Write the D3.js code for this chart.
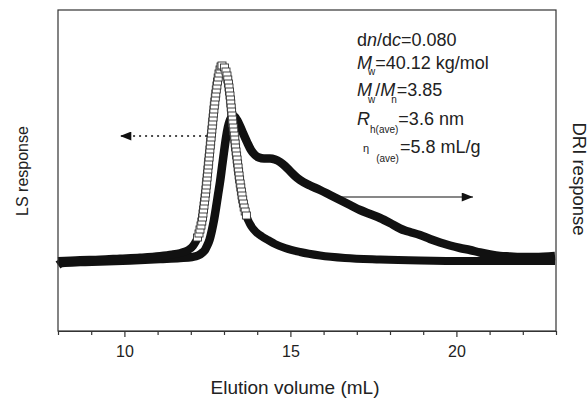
<!DOCTYPE html>
<html>
<head>
<meta charset="utf-8">
<script src="https://cdn.jsdelivr.net/npm/d3@7"></script>
<style>
  body { margin: 0; background: #fff; }
  text { font-family: "Liberation Sans", Arial, Helvetica, sans-serif; fill: #222; }
</style>
</head>
<body>
<svg id="drawing_region"></svg>
<script>
// LS response (open squares), arbitrary units above baseline
const lsVolume = [8.000, 8.663, 9.265, 9.867, 10.470, 11.072, 11.434, 11.675, 11.825, 11.946,
  12.066, 12.142, 12.202, 12.247, 12.277, 12.307, 12.331, 12.352, 12.367, 12.383,
  12.398, 12.413, 12.428, 12.443, 12.455, 12.467, 12.479, 12.491, 12.503, 12.515,
  12.527, 12.539, 12.551, 12.563, 12.575, 12.587, 12.599, 12.611, 12.623, 12.635,
  12.648, 12.660, 12.672, 12.684, 12.696, 12.708, 12.723, 12.738, 12.753, 12.768,
  12.786, 12.804, 12.825, 12.849, 12.880, 12.910, 12.940,
  13.015, 13.060, 13.090, 13.114, 13.133, 13.151, 13.166, 13.181, 13.193, 13.205,
  13.217, 13.229, 13.241, 13.253, 13.265, 13.280, 13.295, 13.310, 13.325, 13.337,
  13.349, 13.364, 13.380, 13.395, 13.410, 13.425, 13.440, 13.455, 13.470, 13.488,
  13.506, 13.524, 13.542, 13.563, 13.584, 13.608, 13.639, 13.675, 13.723, 13.783,
  13.858, 13.964,
  14.144, 14.325, 14.536, 14.837, 15.289, 15.892, 16.644, 17.699, 18.904, 20.410, 21.916, 22.970];
const lsSignal = [1, 2, 2.5, 3.5, 4.5, 6, 7.5, 9, 10.5, 12.5,
  16, 20, 24, 28, 32, 36, 40, 44, 48, 52,
  56, 60, 64, 68, 72, 76, 80, 84, 88, 92,
  96, 100, 104, 108, 112, 116, 120, 124, 128, 132,
  136, 140, 144, 148, 152, 156, 160, 164, 168, 172,
  176, 180, 184, 188, 192, 195, 196,
  194, 190, 186, 182, 178, 174, 170, 166, 162, 158,
  154, 150, 146, 142, 138, 134, 130, 126, 122, 118,
  114, 110, 106, 102, 98, 94, 90, 86, 82, 78,
  74, 70, 66, 62, 58, 54, 50, 46, 42, 38,
  34, 30,
  25.5, 22, 18, 14, 10, 6.5, 4, 2.5, 1.5, 1, 1, 1];

// DRI response (solid line)
const driVolume = [8.000, 8.120, 8.663, 9.265, 10.169, 11.072, 11.675, 12.036, 12.217, 12.337,
  12.428, 12.488, 12.563, 12.638, 12.699, 12.759, 12.819, 12.880, 12.940, 13.000,
  13.060, 13.120, 13.181, 13.241, 13.286, 13.331, 13.392, 13.482, 13.572, 13.693,
  13.813, 13.934, 14.054, 14.205, 14.386, 14.536, 14.687, 14.837, 14.988, 15.139,
  15.289, 15.590, 15.892, 16.193, 16.494, 16.795, 17.096, 17.398, 17.699, 18.000,
  18.301, 18.452, 18.602, 18.904, 19.205, 19.506, 19.807, 20.108, 20.410, 20.711,
  21.012, 21.313, 21.614, 21.916, 22.367, 22.970];
const driSignal = [-3, -1, 0, 0.5, 1.5, 3, 4, 5, 6.5, 9,
  12, 16, 22, 32, 42, 54, 67, 80, 95, 110,
  124, 135, 142, 145.5, 146, 145, 142, 136, 129, 120,
  112, 107, 104.5, 103.5, 103.5, 102.5, 100, 96, 91, 86,
  82, 76.5, 72, 67, 62, 57, 52, 48, 44, 39,
  33.5, 31.5, 30, 27, 23, 19.5, 16.5, 14, 12, 9.5,
  7.5, 6, 5.5, 5, 5, 6];

// squares only stand out where the LS trace is steep
const lsMarkerRange = [12.2, 13.7];

const xTicks = d3.range(8, 24);
const xLabels = [10, 15, 20];

var width = 587;
var height = 398;
var margin = {top: 10, right: 31, bottom: 67, left: 58};

var svg = d3.select('#drawing_region')
  .attr('width', width)
  .attr('height', height);

const innerWidth = width - margin.left - margin.right;
const innerHeight = height - margin.top - margin.bottom;

var chart = svg.append('g')
  .attr('transform', `translate(${margin.left}, ${margin.top})`);

const xscale = d3.scaleLinear().domain([8, 23]).range([0, innerWidth]);
const yscale = d3.scaleLinear().domain([-69, 252]).range([innerHeight, 0]);

const lsData = lsVolume.map((v, i) => ({x: v, y: lsSignal[i]}));
const driData = driVolume.map((v, i) => ({x: v, y: driSignal[i]}));

const line = d3.line()
  .x(d => xscale(d.x))
  .y(d => yscale(d.y))
  .curve(d3.curveMonotoneX);

chart.append('path')
  .attr('d', line(driData))
  .attr('fill', 'none')
  .attr('stroke', '#111')
  .attr('stroke-width', 8.5)
  .attr('stroke-linejoin', 'round');

chart.append('path')
  .attr('d', line(lsData))
  .attr('fill', 'none')
  .attr('stroke', '#111')
  .attr('stroke-width', 8)
  .attr('stroke-linejoin', 'round');

const sq = 8;
chart.selectAll('rect.ls')
  .data(lsData.filter(d => d.x >= lsMarkerRange[0] && d.x <= lsMarkerRange[1]))
  .enter()
  .append('rect')
  .attr('class', 'ls')
  .attr('x', d => xscale(d.x) - sq / 2)
  .attr('y', d => yscale(d.y) - sq / 2)
  .attr('width', sq)
  .attr('height', sq - 1)
  .attr('fill', '#fff')
  .attr('stroke', '#333')
  .attr('stroke-width', 0.9);

// arrows pointing to the axis each trace belongs to
svg.append('defs').append('marker')
  .attr('id', 'head')
  .attr('viewBox', '0 0 10 8')
  .attr('refX', 10).attr('refY', 4)
  .attr('markerWidth', 14).attr('markerHeight', 9)
  .attr('markerUnits', 'userSpaceOnUse')
  .attr('orient', 'auto')
  .append('path').attr('d', 'M0,0L10,4L0,8Z').attr('fill', '#111');

chart.append('line')
  .attr('x1', xscale(12.49)).attr('x2', xscale(9.87))
  .attr('y1', yscale(126)).attr('y2', yscale(126))
  .attr('stroke', '#111').attr('stroke-width', 1.3)
  .attr('stroke-dasharray', '2,4')
  .attr('marker-end', 'url(#head)');

chart.append('line')
  .attr('x1', xscale(16.49)).attr('x2', xscale(20.5))
  .attr('y1', yscale(65)).attr('y2', yscale(65))
  .attr('stroke', '#111').attr('stroke-width', 1.2)
  .attr('marker-end', 'url(#head)');

// frame
chart.append('rect')
  .attr('width', innerWidth).attr('height', innerHeight)
  .attr('fill', 'none').attr('stroke', '#333').attr('stroke-width', 1.2);

const xAxis = d3.axisBottom(xscale)
  .tickValues(xTicks)
  .tickFormat(d => xLabels.includes(d) ? d : '')
  .tickSizeOuter(0);

const gx = chart.append('g')
  .attr('transform', `translate(0, ${innerHeight})`)
  .call(xAxis);
gx.select('.domain').attr('stroke', '#333').attr('stroke-width', 1.2);
gx.selectAll('.tick line')
  .attr('stroke', '#333').attr('stroke-width', 1.2)
  .attr('y2', d => d % 5 === 0 ? 6 : 4);
gx.selectAll('.tick text')
  .attr('y', 26).attr('dy', 0)
  .style('font-size', '16px')
  .style('font-family', '"Liberation Sans", Arial, sans-serif')
  .attr('fill', '#222');

svg.append('text')
  .attr('x', 295).attr('y', 394)
  .attr('text-anchor', 'middle')
  .style('font-size', '19px')
  .text('Elution volume (mL)');

svg.append('text')
  .attr('transform', 'translate(28, 171) rotate(-90)')
  .attr('text-anchor', 'middle')
  .style('font-size', '16px')
  .text('LS response');

svg.append('text')
  .attr('transform', 'translate(573, 179) rotate(90)')
  .attr('text-anchor', 'middle')
  .style('font-size', '18.5px')
  .text('DRI response');

// sample parameters
const info = svg.append('g').style('font-size', '18px');
const tx = 357;

let t = info.append('text').attr('x', tx).attr('y', 46);
t.append('tspan').text('d');
t.append('tspan').style('font-style', 'italic').text('n');
t.append('tspan').text('/d');
t.append('tspan').style('font-style', 'italic').text('c');
t.append('tspan').text('=0.080');

t = info.append('text').attr('x', tx).attr('y', 69);
t.append('tspan').style('font-style', 'italic').text('M');
t.append('tspan').style('font-size', '10px').attr('dx', -4).attr('dy', 6).text('w');
t.append('tspan').attr('dy', -6).text('=40.12 kg/mol');

t = info.append('text').attr('x', tx).attr('y', 96);
t.append('tspan').style('font-style', 'italic').text('M');
t.append('tspan').style('font-size', '10px').attr('dx', -4).attr('dy', 7).text('w');
t.append('tspan').attr('dy', -7).text('/');
t.append('tspan').style('font-style', 'italic').text('M');
t.append('tspan').style('font-size', '10px').attr('dx', -4).attr('dy', 7).text('n');
t.append('tspan').attr('dy', -7).text('=3.85');

t = info.append('text').attr('x', tx).attr('y', 125);
t.append('tspan').style('font-style', 'italic').text('R');
t.append('tspan').style('font-size', '10px').attr('dy', 8).text('h(ave)');
t.append('tspan').attr('dy', -8).text('=3.6 nm');

t = info.append('text').attr('x', tx + 6).attr('y', 152);
t.append('tspan').style('font-size', '11px').text('η');
t.append('tspan').style('font-size', '10px').attr('dx', 7).attr('dy', 10).text('(ave)');
t.append('tspan').attr('dx', 1).attr('dy', -9).text('=5.8 mL/g');
</script>
</body>
</html>
